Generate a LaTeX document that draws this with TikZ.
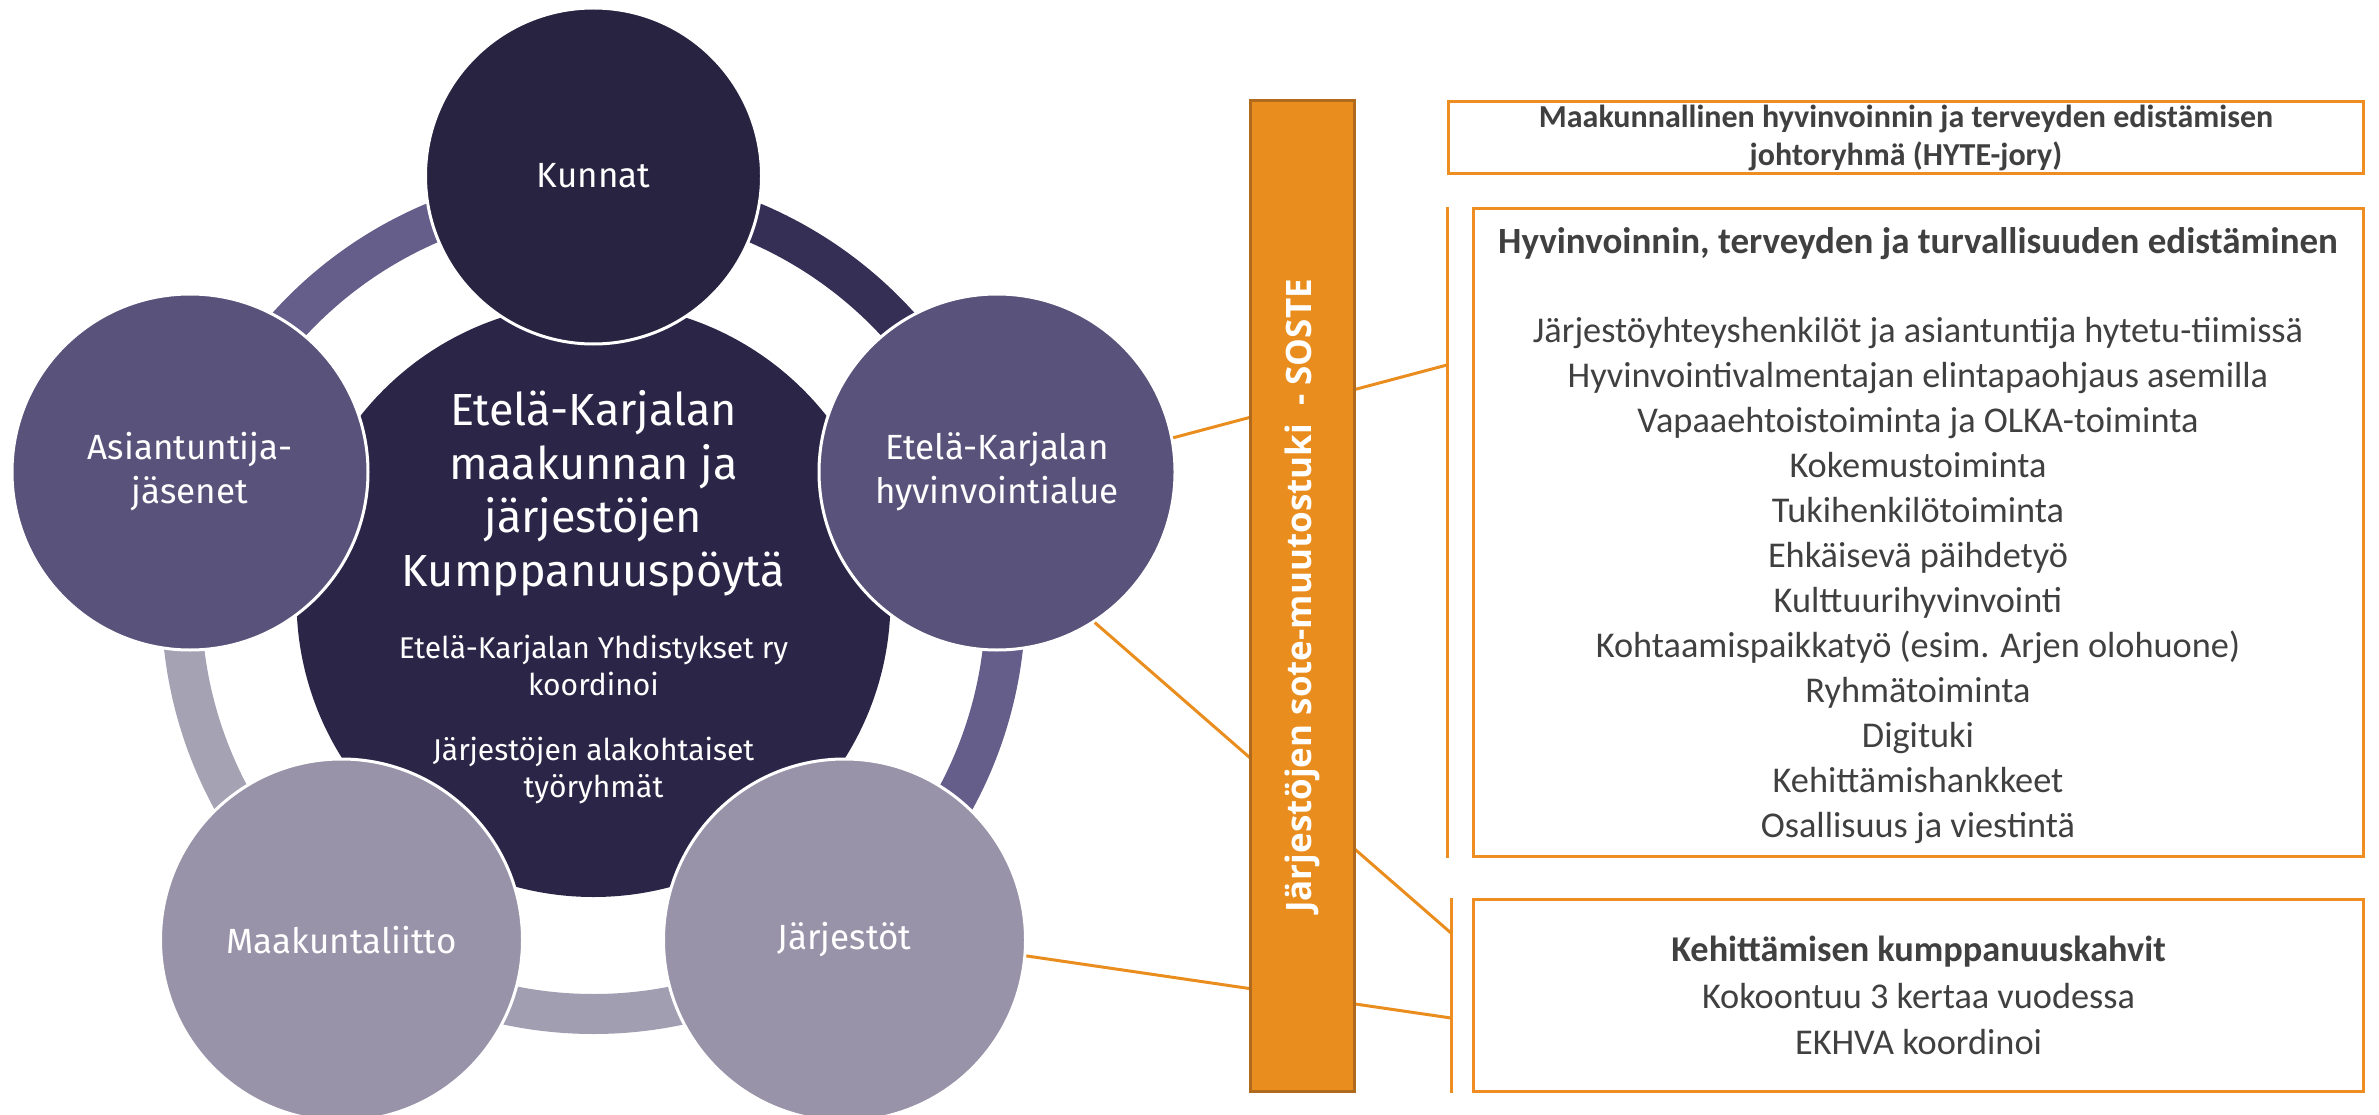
\documentclass[tikz,border=0pt]{standalone}
\usepackage{fontspec}
\setmainfont{Carlito}
\newfontfamily\circfont{Fira Sans}
\newfontfamily\barfont{Open Sans}
\definecolor{ckun}{HTML}{282340}
\definecolor{ccen}{HTML}{2B2647}
\definecolor{cmid}{HTML}{59527A}
\definecolor{clig}{HTML}{9893A8}
\definecolor{ringA}{HTML}{352F56}
\definecolor{ringB}{HTML}{655D8A}
\definecolor{ringC}{HTML}{A29EB2}
\definecolor{ringD}{HTML}{A5A2B4}
\definecolor{ringE}{HTML}{655D8A}
\definecolor{barfill}{HTML}{EA8D1F}
\definecolor{barline}{HTML}{B06A1E}
\definecolor{boxor}{HTML}{EE8E22}
\definecolor{txtgray}{HTML}{404040}
\begin{document}
\begin{tikzpicture}[x=1pt,y=1pt,
  outer/.style={circle, draw=white, line width=3pt, inner sep=0pt, text=white, align=center,
    font=\circfont\fontsize{35}{44}\selectfont},
  ctext/.style={text=white, align=center, inner sep=0pt},
  oline/.style={draw=barfill, line width=3pt},
  brk/.style={draw=boxor, line width=3pt},
  box/.style={draw=boxor, line width=3.5pt, fill=white, inner sep=0pt},
  item/.style={text=txtgray, inner sep=0pt, text height=0.75em, text depth=0.25em,
    font=\fontsize{36.3}{45}\selectfont}]
\useasboundingbox (0,0) rectangle (2379,-1115);
% ring
\coordinate (P) at (593.5,-602);
\foreach \a/\b/\c in {90/18/ringA, 18/-54/ringB, -54/-126/ringC, -126/-198/ringD, 162/90/ringE}
  \draw[line width=40pt, \c] (P) ++(\a:412) arc[start angle=\a, end angle=\b, radius=412];
% centre circle
\node[circle, fill=ccen, minimum size=594pt, inner sep=0pt] (cen) at (593.5,-600) {};
\node[ctext, font=\circfont\fontsize{45}{53.5}\selectfont] (ctitle) at (593.5,-493)
  {Etelä-Karjalan\\maakunnan ja\\järjestöjen\\Kumppanuuspöytä};
\node[ctext, font=\circfont\fontsize{30}{37}\selectfont] (csub1) at (593.5,-665)
  {Etelä-Karjalan Yhdistykset ry\\koordinoi};
\node[ctext, font=\circfont\fontsize{30}{37}\selectfont] (csub2) at (593.5,-770)
  {Järjestöjen alakohtaiset\\työryhmät};
% outer circles
\node[outer, fill=ckun, minimum size=336pt] (kun) at (593.5,-176) {Kunnat};
\node[outer, fill=cmid, minimum size=356pt] (asi) at (190,-472) {Asiantuntija-\\jäsenet};
\node[outer, fill=cmid, minimum size=356pt] (hyv) at (997,-472) {Etelä-Karjalan\\hyvinvointialue};
\node[outer, fill=clig, minimum size=362pt] (maa) at (341.5,-940) {Maakuntaliitto};
\node[outer, fill=clig, minimum size=362pt] (jar) at (844.5,-940) {Järjestöt};
% brackets and connector ends
\coordinate (bm1) at (1447,-207);
\coordinate (bm2) at (1447,-858);
\coordinate (bb1) at (1451,-898);
\coordinate (bb2) at (1451,-1093);
\coordinate (t1) at (1447,-365);
\coordinate (t2) at (1451,-933);
\coordinate (t3) at (1451,-1018);
\draw[brk] (bm1) -- (bm2);
\draw[brk] (bb1) -- (bb2);
\draw[oline] (hyv.11) -- (t1);
\draw[oline] (hyv.-57.7) -- (t2);
\draw[oline] (jar.-5.6) -- (t3);
% bar
\node[draw=barline, fill=barfill, line width=3pt, rotate=90, minimum width=991pt, minimum height=104pt,
  inner sep=0pt, text=white, font=\barfont\bfseries\fontsize{35}{40}\selectfont] (bar) at (1302.5,-596)
  {Järjestöjen sote-muutostuki\ \ - SOSTE};
% boxes
\node[box, minimum width=915pt, minimum height=72pt, align=center, text=txtgray,
  font=\bfseries\fontsize{32}{38}\selectfont] (top) at (1906,-137.5)
  {Maakunnallinen hyvinvoinnin ja terveyden edistämisen\\johtoryhmä (HYTE-jory)};
\node[box, minimum width=890pt, minimum height=648pt] (mid) at (1918.5,-532.5) {};
\node[item, font=\bfseries\fontsize{37}{45}\selectfont] (head) at (1918,-251)
  {Hyvinvoinnin, terveyden ja turvallisuuden edistäminen};
\foreach \t [count=\i] in {{Järjestöyhteyshenkilöt ja asiantuntija hytetu-tiimissä},
  {Hyvinvointivalmentajan elintapaohjaus asemilla},
  {Vapaaehtoistoiminta ja OLKA-toiminta},
  {Kokemustoiminta},
  {Tukihenkilötoiminta},
  {Ehkäisevä päihdetyö},
  {Kulttuurihyvinvointi},
  {Kohtaamispaikkatyö (esim. Arjen olohuone)},
  {Ryhmätoiminta},
  {Digituki},
  {Kehittämishankkeet},
  {Osallisuus ja viestintä}}
  \node[item] (it\i) at (1918,{-340-45*(\i-1)}) {\t};
\node[box, minimum width=890pt, minimum height=192pt, align=center, text=txtgray,
  font=\fontsize{36.3}{46.5}\selectfont] (bot) at (1918.5,-995.5)
  {\textbf{Kehittämisen kumppanuuskahvit}\\Kokoontuu 3 kertaa vuodessa\\EKHVA koordinoi};
\end{tikzpicture}
\end{document}
